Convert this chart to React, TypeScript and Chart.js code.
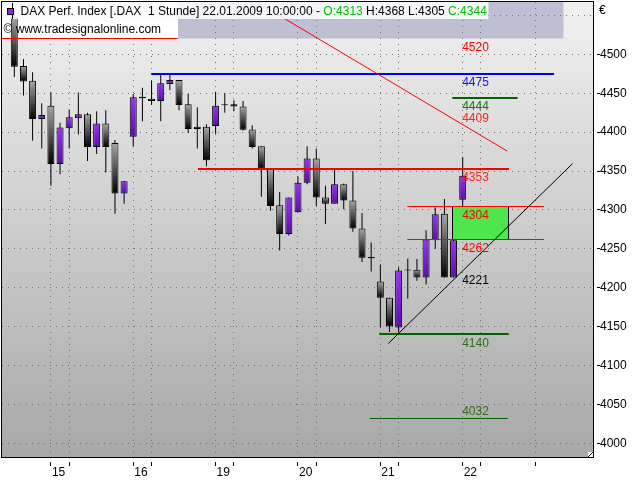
import React, { useEffect, useRef } from 'react';
import { Chart, registerables } from 'chart.js';

Chart.register(...registerables);

// ---- candle data (hourly bars, 14.01.2009 .. 22.01.2009 10:00) ----
const opens = [4548, 4485, 4466, 4417, 4434, 4359, 4405, 4418, 4423, 4381, 4411, 4386, 4321, 4394, 4445.5, 4443, 4440, 4462, 4467, 4436, 4404, 4407, 4408, 4436, 4436, 4433, 4403.5, 4382, 4353, 4306, 4269, 4297, 4335, 4366, 4316, 4308, 4333, 4312, 4276, 4239.5, 4208, 4187, 4149, 4223.5, 4223, 4213, 4261, 4295, 4213, 4313];
const highs = [4555, 4494, 4477, 4437, 4451, 4412, 4429, 4451, 4425, 4427, 4428, 4390, 4337, 4449, 4457, 4466, 4474, 4474, 4467, 4449, 4432, 4410, 4452, 4450, 4441, 4440, 4409, 4382, 4353, 4323, 4316, 4343, 4382, 4379, 4331, 4352, 4334, 4350, 4296, 4258, 4230, 4187, 4226, 4237.5, 4237, 4274, 4303, 4314, 4262, 4368];
const lows = [4471, 4447, 4389, 4379, 4331, 4346, 4379, 4397, 4363, 4372, 4348, 4295, 4308, 4382, 4414, 4435, 4414, 4454, 4428, 4399, 4379, 4356, 4398, 4425, 4427, 4402, 4379, 4317, 4299, 4248, 4267, 4297, 4333, 4305, 4282, 4308, 4301, 4272, 4233, 4221, 4149, 4143, 4143, 4186, 4209, 4204, 4250, 4213, 4213, 4305];
const closes = [4484, 4465, 4417, 4422, 4359, 4406, 4419, 4423, 4381, 4411, 4381, 4321, 4337, 4445, 4443.5, 4440, 4463, 4467, 4435, 4404, 4407, 4364, 4434, 4434.5, 4433, 4403, 4381, 4353, 4305, 4269, 4316, 4335, 4366, 4316, 4308, 4333, 4312, 4276, 4238.5, 4238, 4187, 4150, 4222, 4222, 4213, 4262, 4294.5, 4213, 4261, 4344];

// ---- axis ticks ----
const dayTickIdx = [4, 13, 22, 31, 40, 49];
const dayLabels = ['15', '16', '19', '20', '21', '22'];
const minorTickIdx = [6, 15, 24, 33, 42, 51, 57];
const yTickValues = [4000, 4050, 4100, 4150, 4200, 4250, 4300, 4350, 4400, 4450, 4500, 4550];

// ---- horizontal levels (value, from bar index, to bar index) ----
const levelValues = [4520, 4475, 4444, 4353, 4304, 4262, 4140, 4032];
const levelFrom = [-1.4, 14.97, 47.86, 20.07, 42.95, 42.95, 39.89, 38.87];
const levelTo = [17.89, 58.98, 55.0, 54.06, 57.88, 57.88, 54.03, 53.92];
const levelColors = ['#ff0000', '#0000ff', '#006400', '#ff0000', '#ff0000', '#ff0000', '#006400', '#006400'];
const levelWidths = [1, 2, 2, 2, 1, 1, 2, 1];

// ---- zone box ----
const boxFrom = 47.86;
const boxTo = 54.03;
const boxLow = 4262;
const boxHigh = 4304;

// ---- trend lines ----
const redTrendX = [26.1, 53.87];
const redTrendY = [4570, 4375.6];
const blackTrendX = [40.87, 61.0];
const blackTrendY = [4128.3, 4359.5];

// ---- value notes ----
const noteValues = [4520, 4475, 4444, 4409, 4353, 4304, 4262, 4221, 4140, 4032];
const noteColors = ['#ff0000', '#1010ff', '#1e6e1e', '#ff2020', '#ff2020', '#ff0000', '#ff0000', '#000000', '#2e6e1e', '#2e6e1e'];
const noteAbove = [false, false, false, true, false, false, false, false, false, true];
const noteAtIdx = 49;

const FONT = '"Liberation Sans", Arial, sans-serif';

function crisp(v: number, w: number) {
  return w % 2 === 1 ? Math.floor(v) + 0.5 : Math.round(v);
}

const overlay = {
  id: 'overlay',
  beforeDraw(chart: any) {
    const { ctx, chartArea: a } = chart;
    ctx.save();
    const g = ctx.createLinearGradient(0, a.top, 0, a.bottom);
    g.addColorStop(0, '#f1f1f1');
    g.addColorStop(1, '#a8a8a8');
    ctx.fillStyle = g;
    ctx.fillRect(a.left, a.top, a.right - a.left, a.bottom - a.top);
    ctx.fillStyle = '#bebfd3';
    ctx.fillRect(178, 2, 385.5, 36.5);
    ctx.restore();
  },
  beforeDatasetsDraw(chart: any) {
    const { ctx } = chart;
    ctx.save();
    ctx.fillStyle = '#ffffff';
    ctx.fillRect(2, 19, 176, 19.5);
    ctx.restore();
  },
  afterDatasetsDraw(chart: any) {
    const { ctx, chartArea: a } = chart;
    const xs = chart.scales.x;
    const ys = chart.scales.y;
    ctx.save();
    ctx.beginPath();
    ctx.rect(a.left, a.top, a.right - a.left, a.bottom - a.top);
    ctx.clip();

    // zone box
    const bx1 = crisp(xs.getPixelForValue(boxFrom), 1);
    const bx2 = crisp(xs.getPixelForValue(boxTo), 1);
    const by1 = ys.getPixelForValue(boxHigh);
    const by2 = ys.getPixelForValue(boxLow);
    ctx.fillStyle = '#4de64d';
    ctx.fillRect(bx1, by1, bx2 - bx1, by2 - by1);
    ctx.strokeStyle = '#000';
    ctx.lineWidth = 1;
    ctx.beginPath();
    ctx.moveTo(bx1, by1); ctx.lineTo(bx1, by2);
    ctx.moveTo(bx2, by1); ctx.lineTo(bx2, by2);
    ctx.stroke();

    // levels
    levelValues.forEach((v, i) => {
      const w = levelWidths[i];
      const y = crisp(ys.getPixelForValue(v), w);
      ctx.strokeStyle = levelColors[i];
      ctx.lineWidth = w;
      ctx.beginPath();
      ctx.moveTo(xs.getPixelForValue(levelFrom[i]), y);
      ctx.lineTo(xs.getPixelForValue(levelTo[i]), y);
      ctx.stroke();
    });

    // trend lines
    ctx.lineWidth = 1;
    ctx.strokeStyle = '#ff0000';
    ctx.beginPath();
    ctx.moveTo(xs.getPixelForValue(redTrendX[0]), ys.getPixelForValue(redTrendY[0]));
    ctx.lineTo(xs.getPixelForValue(redTrendX[1]), ys.getPixelForValue(redTrendY[1]));
    ctx.stroke();
    ctx.strokeStyle = '#000000';
    ctx.beginPath();
    ctx.moveTo(xs.getPixelForValue(blackTrendX[0]), ys.getPixelForValue(blackTrendY[0]));
    ctx.lineTo(xs.getPixelForValue(blackTrendX[1]), ys.getPixelForValue(blackTrendY[1]));
    ctx.stroke();

    // notes
    ctx.font = '12px ' + FONT;
    ctx.textAlign = 'left';
    ctx.textBaseline = 'alphabetic';
    const nx = xs.getPixelForValue(noteAtIdx) - 0.5;
    noteValues.forEach((v, i) => {
      const y = ys.getPixelForValue(v);
      ctx.fillStyle = noteColors[i];
      ctx.fillText(String(v), nx, noteAbove[i] ? y - 3 : y + 12.5);
    });
    ctx.restore();
  },
  afterDraw(chart: any) {
    const { ctx } = chart;
    ctx.save();
    // header row 1
    ctx.fillStyle = 'rgba(255,255,255,0.85)';
    ctx.fillRect(2, 2, 486.5, 17);
    // icon
    ctx.strokeStyle = '#000';
    ctx.lineWidth = 1;
    ctx.beginPath();
    ctx.moveTo(12.5, 3); ctx.lineTo(12.5, 19);
    ctx.stroke();
    ctx.fillStyle = '#8a2be2';
    ctx.fillRect(7.5, 8.5, 6, 6);
    ctx.strokeRect(7.5, 8.5, 6, 6);

    ctx.font = '12px ' + FONT;
    ctx.textBaseline = 'alphabetic';
    ctx.textAlign = 'left';
    const segs: [string, string][] = [
      ['DAX Perf. Index [.DAX  1 Stunde] 22.01.2009 10:00:00 - ', '#000000'],
      ['O:4313', '#00c000'],
      [' H:4368 L:4305 ', '#000000'],
      ['C:4344', '#00c000'],
    ];
    let x = 20.5;
    segs.forEach(([t, c]) => {
      ctx.fillStyle = c;
      ctx.fillText(t, x, 15);
      x += ctx.measureText(t).width;
    });
    ctx.fillStyle = '#000';
    ctx.fillText('\u00A9 www.tradesignalonline.com', 3.5, 33);
    ctx.fillText('\u20AC', 599, 14);

    // frame
    ctx.strokeStyle = '#000';
    ctx.lineWidth = 1;
    ctx.strokeRect(1.5, 1.5, 592, 456);
    // corner glyph
    ctx.fillStyle = '#fff';
    ctx.fillRect(588, 452, 5, 5);
    ctx.beginPath();
    ctx.moveTo(588, 457); ctx.lineTo(593, 452);
    ctx.stroke();
    ctx.restore();
  },
};

export default function App() {
  const ref = useRef<HTMLCanvasElement | null>(null);

  useEffect(() => {
    const canvas = ref.current;
    if (!canvas) return;
    const idx = opens.map((_, i) => i);
    const bodyData = idx.map((i) => ({ x: i, y: [opens[i], closes[i]] }));
    const wickData = idx.map((i) => ({ x: i, y: [lows[i], highs[i]] }));
    const xTicks = [...dayTickIdx, ...minorTickIdx].sort((a, b) => a - b);

    const bodyColor = (c: any) => {
      const i = c.dataIndex;
      if (c.type !== 'data' || i === undefined) return '#888';
      const o = opens[i];
      const cl = closes[i];
      const up = cl > o;
      const ys = c.chart.scales && c.chart.scales.y;
      const flat = up ? '#7a22d0' : '#555555';
      if (!ys) return flat;
      const top = ys.getPixelForValue(Math.max(o, cl));
      const bot = ys.getPixelForValue(Math.min(o, cl));
      if (!isFinite(top) || !isFinite(bot)) return flat;
      const g = c.chart.ctx.createLinearGradient(0, top, 0, Math.max(bot, top + 1));
      if (up) {
        g.addColorStop(0, '#9736f0');
        g.addColorStop(1, '#5a10a6');
      } else {
        g.addColorStop(0, '#a6a6a6');
        g.addColorStop(1, '#000000');
      }
      return g;
    };

    const chart = new Chart(canvas, {
      type: 'bar',
      data: {
        datasets: [
          {
            label: 'body',
            data: bodyData as any,
            barThickness: 7,
            borderWidth: 1,
            borderColor: '#000',
            borderSkipped: false,
            backgroundColor: bodyColor,
            grouped: false,
            order: 1,
            inflateAmount: 0,
          } as any,
          {
            label: 'wick',
            data: wickData as any,
            barThickness: 1,
            borderWidth: 0,
            backgroundColor: '#000',
            grouped: false,
            order: 2,
            inflateAmount: 0,
          } as any,
        ],
      },
      options: {
        responsive: false,
        animation: false,
        devicePixelRatio: 1,
        layout: { padding: { left: 2, top: 2, right: 0, bottom: 0 } },
        plugins: {
          legend: { display: false },
          tooltip: { enabled: false },
          title: { display: false },
        },
        scales: {
          x: {
            type: 'linear',
            position: 'bottom',
            min: -1.344,
            max: 63.24,
            offset: false,
            afterBuildTicks: (s: any) => {
              s.ticks = xTicks.map((v) => ({ value: v }));
            },
            afterFit: (s: any) => {
              s.height = 23;
              s.paddingLeft = 0;
              s.paddingRight = 0;
            },
            ticks: {
              autoSkip: false,
              maxRotation: 0,
              minRotation: 0,
              align: 'start',
              labelOffset: 1,
              padding: -1,
              color: '#000',
              font: { family: FONT, size: 12 },
              callback: (v: any) => {
                const k = dayTickIdx.indexOf(Number(v));
                return k >= 0 ? dayLabels[k] : '';
              },
            },
            grid: {
              offset: false,
              color: '#707070',
              lineWidth: 1,
              drawTicks: true,
              tickLength: 9,
              tickColor: '#000',
              tickWidth: 1,
              tickBorderDash: [4, 100],
              tickBorderDashOffset: 99,
            },
            border: { display: false, dash: [1, 5] },
          } as any,
          y: {
            type: 'linear',
            position: 'right',
            min: 3982.4,
            max: 4567.3,
            afterBuildTicks: (s: any) => {
              s.ticks = yTickValues.map((v) => ({ value: v }));
            },
            afterFit: (s: any) => {
              s.width = 47;
              s.paddingTop = 0;
              s.paddingBottom = 0;
            },
            ticks: {
              padding: 0,
              color: '#000',
              font: { family: FONT, size: 12 },
              callback: (v: any) => (Number(v) === 4550 ? '' : String(v)),
            },
            grid: {
              color: '#707070',
              lineWidth: 1,
              drawTicks: true,
              tickLength: 7,
              tickWidth: 1,
              tickColor: (c: any) => (c.tick && c.tick.value === 4550 ? 'rgba(0,0,0,0)' : '#000'),
              tickBorderDash: [3, 100],
              tickBorderDashOffset: 99,
            },
            border: { display: false, dash: [1, 5] },
          } as any,
        },
      },
      plugins: [overlay],
    });
    return () => chart.destroy();
  }, []);

  return (
    <div style={{ position: 'absolute', left: 0, top: 0, width: 640, height: 480, background: '#fff' }}>
      <canvas ref={ref} width={640} height={480} style={{ display: 'block' }} />
    </div>
  );
}
